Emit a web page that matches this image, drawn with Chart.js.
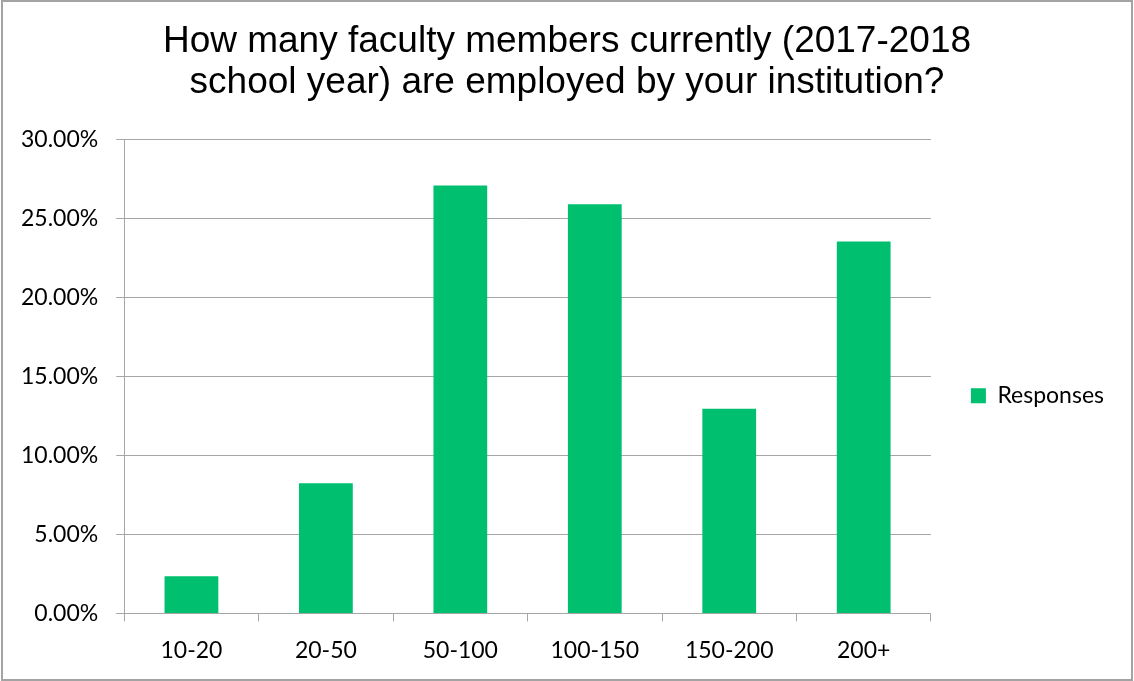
<!DOCTYPE html>
<html>
<head>
<meta charset="utf-8">
<title>Faculty members</title>
<script src="https://cdn.jsdelivr.net/npm/chart.js@4.4.0/dist/chart.umd.min.js"></script>
<style>
  html, body { margin: 0; padding: 0; background: #fff; }
  #wrap { position: relative; width: 1134px; height: 681px; }
  #frame {
    position: absolute; left: 1px; top: 0; width: 1132px; height: 681px;
    box-sizing: border-box; border: 2px solid #a3a3a3; pointer-events: none;
  }
</style>
</head>
<body>
<div id="wrap">
  <canvas id="grafico" width="1134" height="681"></canvas>
  <div id="frame"></div>
</div>
<script>
// Rangos de tamaño y porcentaje de respuestas
const rangos = ['10-20', '20-50', '50-100', '100-150', '150-200', '200+'];
const respuestas = [2.35, 8.24, 27.06, 25.88, 12.94, 23.53];
const marcasY = [0, 5, 10, 15, 20, 25, 30];

const verde = '#00bf6f';
const gris = '#a6a6a6';
const fuenteEjes = 'Lato, "Open Sans", sans-serif';

// El título se centra sobre todo el lienzo, no sólo sobre el área sin leyenda
const centrarTitulo = {
  id: 'centrarTitulo',
  afterLayout(c) {
    c.titleBlock.left = 0;
    c.titleBlock.right = c.width;
    c.titleBlock.width = c.width;
  }
};

const ctx = document.getElementById('grafico').getContext('2d');
const chart = new Chart(ctx, {
  type: 'bar',
  data: {
    labels: rangos,
    datasets: [{
      label: 'Responses',
      data: respuestas,
      backgroundColor: verde,
      borderWidth: 0,
      barPercentage: 0.4,
      categoryPercentage: 1
    }]
  },
  plugins: [centrarTitulo],
  options: {
    responsive: false,
    animation: false,
    layout: { padding: { left: 3, right: 20, top: 0, bottom: 2 } },
    plugins: {
      title: {
        display: true,
        text: ['How many faculty members currently (2017-2018', 'school year) are employed by your institution?'],
        color: '#000',
        font: { family: '"Liberation Sans", Arial, sans-serif', size: 37, weight: 'normal', lineHeight: 1.11 },
        padding: { top: 21, bottom: 36 }
      },
      legend: {
        position: 'right',
        fullSize: false,
        title: { display: true, text: '', font: { size: 10, lineHeight: 1 }, padding: { top: 29, bottom: 0 } },
        labels: {
          boxWidth: 15,
          boxHeight: 15,
          padding: 40,
          color: '#000',
          font: { family: fuenteEjes, size: 23 }
        }
      },
      tooltip: { enabled: false }
    },
    scales: {
      x: {
        grid: {
          offset: true,
          drawOnChartArea: false,
          drawTicks: true,
          tickLength: 8,
          color: gris
        },
        border: { color: gris },
        ticks: { color: '#000', padding: 15, font: { family: fuenteEjes, size: 23 } }
      },
      y: {
        min: marcasY[0],
        max: marcasY[marcasY.length - 1],
        afterBuildTicks: (eje) => { eje.ticks = marcasY.map(v => ({ value: v })); },
        grid: { color: gris, tickLength: 8 },
        border: { color: gris },
        ticks: {
          color: '#000',
          padding: 18,
          font: { family: fuenteEjes, size: 23 },
          callback: (v) => v.toFixed(2) + '%'
        }
      }
    }
  }
});
</script>
</body>
</html>
